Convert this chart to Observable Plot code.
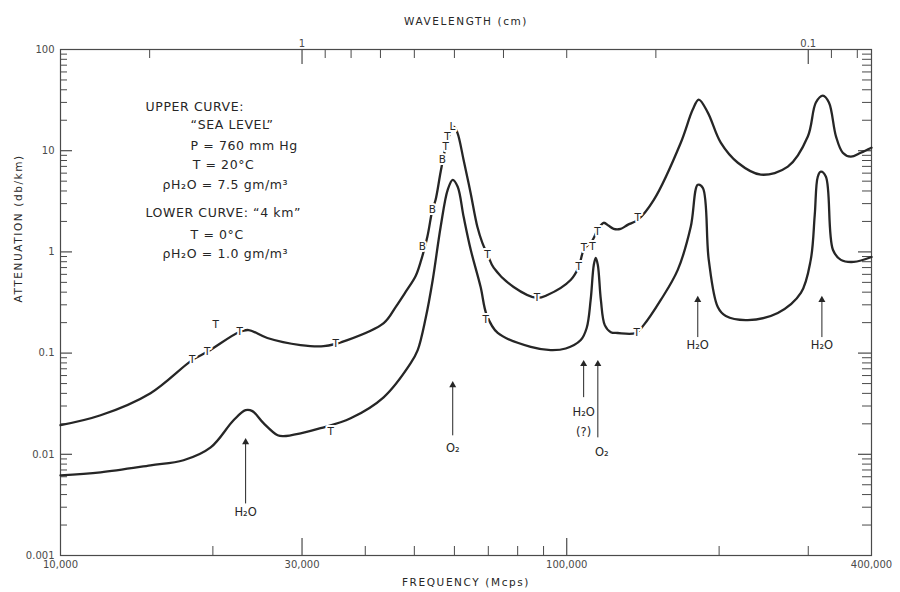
<!DOCTYPE html>
<html><head><meta charset="utf-8">
<script src="https://cdn.jsdelivr.net/npm/d3@7"></script>
<script src="https://cdn.jsdelivr.net/npm/@observablehq/plot@0.6"></script>
<style>
body{margin:0;background:#fff;}
#chart svg{display:block;}
</style></head><body><div id="chart"></div>
<script>
// ---- data (frequency in Mcps, attenuation in db/km) ----
const upperFreq = [10000,12000,15060,18200,19500,22600,23530,25620,29800,33100,36870,43500,45920,48060,50300,51450,53050,54280,55080,56360,57670,58470,59800,60810,62560,64570,66600,68130,69800,71770,78540,87300,91600,101800,105600,108100,112500,115100,118300,121100,123800,127800,131900,138100,148600,168000,177400,182300,190000,201500,217800,241800,273400,299400,310600,320600,329600,340400,351000,364000,381000,400000];
const upperAtten = [0.0194,0.0243,0.0402,0.0853,0.103,0.1626,0.169,0.141,0.120,0.117,0.1345,0.198,0.285,0.402,0.578,0.796,1.41,2.6,3.27,6.2,11.0,13.8,17.3,15.1,8.1,3.84,1.77,1.23,0.933,0.695,0.45,0.351,0.375,0.528,0.71,1.05,1.31,1.65,1.94,1.81,1.69,1.69,1.85,2.07,3.27,12.0,25.5,32.0,23.8,12.0,7.6,5.8,6.95,13.8,29.9,35,29.9,13.8,9.55,8.73,9.55,10.7];

const lowerFreq = [10000,12000,15060,17500,19800,21970,23210,23940,25180,26850,27590,29810,32640,37420,43480,49180,50770,52650,54360,56360,58190,59540,60900,62570,64620,67600,69490,73060,84900,92990,99540,106600,109500,111500,113100,114100,115200,116800,118900,122200,126100,136800,141900,153400,165700,175800,181500,185700,190800,198800,206200,227900,261200,290100,303400,309000,313300,317700,325100,335600,348000,369000,400000];
const lowerAtten = [0.0062,0.00664,0.00778,0.00873,0.0117,0.0217,0.0273,0.0267,0.0203,0.0154,0.0151,0.0161,0.0181,0.0227,0.0366,0.0796,0.107,0.222,0.528,1.77,4.11,5.16,4.4,2.22,1.05,0.45,0.238,0.158,0.115,0.107,0.111,0.1345,0.177,0.335,0.743,0.873,0.743,0.335,0.189,0.161,0.158,0.158,0.189,0.335,0.664,1.77,4.6,4.3,0.834,0.285,0.232,0.212,0.249,0.393,0.834,2.32,5.53,6.2,5.53,1.05,0.834,0.796,0.89];

// measured-point letters along the curves
const markFreq  = [18200,19500,20250,22600,34950,51880,54280,56800,57670,58130,59460,69700,87300,105600,108100,112400,115000,138100,34180,69180,137500];
const markAtten = [0.0853,0.103,0.189,0.1626,0.123,1.13,2.6,8.1,11.0,13.9,17.4,0.935,0.35,0.72,1.10,1.13,1.59,2.17,0.0166,0.212,0.158];
const markText  = ["T","T","T","T","T","B","B","B","T","T","L","T","T","T","T","T","T","T","T","T","T"];

// absorption-line arrows
const arrowFreq = [23210,59540,108000,115200,181500,319200];
const arrowFrom = [0.00327,0.0154,0.0367,0.0147,0.144,0.144];
const arrowTo   = [0.0138,0.0505,0.0815,0.0815,0.351,0.351];

// arrow labels
const lineLabFreq  = [23210,59540,108000,108000,117300,181500,319200];
const lineLabAtten = [0.00267,0.01146,0.026,0.0165,0.0105,0.12,0.12];
const lineLabText  = ["H₂O","O₂","H₂O","(?)","O₂","H₂O","H₂O"];

// legend block
const legendFreq  = [14720,18070,18070,18240,15910,14720,18070,15910];
const legendAtten = [27.3,18.1,11.2,7.15,4.6,2.43,1.47,0.955];
const legendText  = ["UPPER CURVE:","\u201CSEA LEVEL\u201D","P = 760 mm Hg","T = 20°C","ρH₂O = 7.5 gm/m³","LOWER CURVE: \u201C4 km\u201D","T = 0°C","ρH₂O = 1.0 gm/m³"];

// axes
const xTickValues = [10000,30000,100000,400000];
const xTickLabels = ["10,000","30,000","100,000","400,000"];
const xMajorTicks = [30000,100000];
const xMinorTicks = [20000,40000,50000,60000,70000,80000,90000,200000,300000];
const wlMajor = [1,0.1];
const wlMajorLabels = ["1","0.1"];
const wlMinor = [2,0.9,0.8,0.7,0.6,0.5,0.4,0.3,0.2,0.09,0.08];
const yTickValues = [0.001,0.01,0.1,1,10,100];
const yTickLabels = ["0.001","0.01","0.1","1","10","100"];
const yDecades = [0.01,0.1,1,10];
const yMantissas = [2,3,4,5,6,7,8,9];

// ---- build ----
const C_CM_MHZ = 30000; // wavelength(cm) = 30000 / f(Mcps)
const upper = upperFreq.map((f,i)=>({f, a: upperAtten[i]}));
const lower = lowerFreq.map((f,i)=>({f, a: lowerAtten[i]}));
const marksData = markFreq.map((f,i)=>({f, a: markAtten[i], t: markText[i]}));
const arrows = arrowFreq.map((f,i)=>({f, a0: arrowFrom[i], a1: arrowTo[i]}));
const lineLabs = lineLabFreq.map((f,i)=>({f, a: lineLabAtten[i], t: lineLabText[i]}));
const legend = legendFreq.map((f,i)=>({f, a: legendAtten[i], t: legendText[i]}));
const xTicks = xTickValues.map((v,i)=>({v, t: xTickLabels[i]}));
const yTicks = yTickValues.map((v,i)=>({v, t: yTickLabels[i]}));
const wlMaj = wlMajor.map((w,i)=>({f: C_CM_MHZ/w, t: wlMajorLabels[i]}));
const wlMinF = wlMinor.map(w=>C_CM_MHZ/w);
const yMinor = [];
for (const d of [0.001,0.01,0.1,1,10]) for (const m of yMantissas) yMinor.push(d*m);

const W=900, H=592, mL=60, mR=29, mT=49, mB=37;
const pW = W-mL-mR, pH = H-mT-mB;
const ink = "#262626", axisInk = "#4a4a4a", font = "DejaVu Sans";

const chart = Plot.plot({
  width: W, height: H,
  marginLeft: mL, marginRight: mR, marginTop: mT, marginBottom: mB,
  x: {type: "log", domain: [10000, 400000], axis: null},
  y: {type: "log", domain: [0.001, 100], axis: null},
  style: {fontFamily: font, background: "#fff", color: ink},
  marks: [
    Plot.frame({stroke: axisInk, strokeWidth: 1.2}),
    // bottom ticks (inside)
    Plot.ruleX(xMinorTicks, {x: d=>d, insetTop: pH-9, stroke: axisInk, strokeWidth: 1}),
    Plot.ruleX(xMajorTicks, {x: d=>d, insetTop: pH-17, stroke: axisInk, strokeWidth: 1.2}),
    // top wavelength ticks (inside)
    Plot.ruleX(wlMinF, {x: d=>d, insetBottom: pH-9, stroke: axisInk, strokeWidth: 1}),
    Plot.ruleX(wlMaj, {x: "f", insetBottom: pH-15, stroke: axisInk, strokeWidth: 1.2}),
    // left / right ticks
    Plot.ruleY(yMinor, {y: d=>d, insetRight: pW-7, stroke: axisInk, strokeWidth: 1}),
    Plot.ruleY(yDecades, {y: d=>d, insetRight: pW-12, stroke: axisInk, strokeWidth: 1.2}),
    Plot.ruleY(yMinor, {y: d=>d, insetLeft: pW-9, stroke: axisInk, strokeWidth: 1}),
    Plot.ruleY(yDecades, {y: d=>d, insetLeft: pW-13, stroke: axisInk, strokeWidth: 1.2}),
    // tick labels
    Plot.text(xTicks, {x: "v", text: "t", frameAnchor: "bottom", dy: 12, fontSize: 10, fill: axisInk}),
    Plot.text(yTicks, {y: "v", text: "t", frameAnchor: "left", dx: -6, textAnchor: "end", fontSize: 10, fill: axisInk}),
    Plot.text(wlMaj, {x: "f", text: "t", frameAnchor: "top", dy: -10, fontSize: 10, fill: axisInk}),
    // axis titles
    Plot.text(["WAVELENGTH (cm)"], {text: d=>d, frameAnchor: "top", dy: -32, fontSize: 10.5, fill: ink}),
    Plot.text(["FREQUENCY (Mcps)"], {text: d=>d, frameAnchor: "bottom", dy: 30, fontSize: 10.5, fill: ink}),
    Plot.text(["ATTENUATION (db/km)"], {text: d=>d, frameAnchor: "left", dx: -42, rotate: -90, fontSize: 10.5, fill: ink}),
    // curves
    Plot.line(upper, {x: "f", y: "a", curve: "catmull-rom", stroke: ink, strokeWidth: 2.3}),
    Plot.line(lower, {x: "f", y: "a", curve: "catmull-rom", stroke: ink, strokeWidth: 2.3}),
    // point letters with white halo (breaks the curve)
    Plot.text(marksData, {x: "f", y: "a", text: "t", fontSize: 10.5, fill: ink, stroke: "#fff", strokeWidth: 4, paintOrder: "stroke"}),
    // arrows
    Plot.link(arrows, {x1: "f", x2: "f", y1: "a0", y2: "a1", stroke: ink, strokeWidth: 1}),
    Plot.dot(arrows, {x: "f", y: "a1", symbol: "triangle", r: 2.6, fill: ink, stroke: null, dy: 2}),
    Plot.text(lineLabs, {x: "f", y: "a", text: "t", fontSize: 11.5, fill: ink}),
    // legend block
    Plot.text(legend, {x: "f", y: "a", text: "t", textAnchor: "start", fontSize: 12.5, fill: ink})
  ]
});
document.getElementById("chart").appendChild(chart);
d3.select(chart).selectAll("text").filter(function(){
  const s = this.textContent;
  return s==="WAVELENGTH (cm)"||s==="FREQUENCY (Mcps)"||s==="ATTENUATION (db/km)";
}).style("letter-spacing","1.6px");
d3.select(chart).selectAll("text").filter(function(){
  return legendText.includes(this.textContent);
}).style("letter-spacing","0.6px");
</script></body></html>
